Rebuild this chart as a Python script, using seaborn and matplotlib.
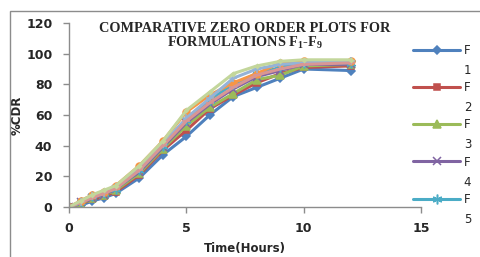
import numpy as np
import pandas as pd
import matplotlib
matplotlib.use("Agg")
import matplotlib.pyplot as plt
from matplotlib.patches import Rectangle
import seaborn as sns

# ---- data ----
time_h = [0, 0.5, 1, 1.5, 2, 3, 4, 5, 6, 7, 8, 9, 10, 12]
F1 = [0, 1, 4, 6, 9, 19, 34, 46, 60, 72, 78, 84, 90, 89]
F2 = [0, 2, 5, 7, 10, 21, 37, 50, 64, 73, 81, 87, 91, 92]
F3 = [0, 2, 6, 8, 11, 22, 38, 53, 65, 74, 83, 86, 92, 93]
F4 = [0, 3, 6, 8, 12, 23, 39, 55, 67, 77, 85, 89, 93, 93]
F5 = [0, 3, 7, 9, 12, 24, 40, 57, 70, 80, 87, 91, 94, 94]
F6 = [0, 4, 8, 10, 14, 27, 43, 62, 73, 81, 87, 94, 95, 95]
F7 = [0, 3, 7, 9, 13, 25, 41, 58, 71, 84, 90, 93, 94, 95]
F8 = [0, 3, 6, 9, 12, 24, 40, 56, 68, 78, 86, 90, 93, 94]
F9 = [0, 4, 8, 11, 14, 27, 43, 63, 75, 87, 92, 95, 96, 96]

series_names = ["F1", "F2", "F3", "F4", "F5", "F6", "F7", "F8", "F9"]
series_vals = [F1, F2, F3, F4, F5, F6, F7, F8, F9]
legend_nums = ["1", "2", "3", "4", "5"]

colors = ["#4F81BD", "#C0504D", "#9BBB59", "#8064A2", "#4BACC6",
          "#F79646", "#95B3D7", "#D99694", "#C3D69B"]
markers = ["D", "s", "^", "x", (6, 2, 0), "o", "+", "_", "D"]
msizes = [4.5, 5, 5.5, 6, 7, 5, 6, 6, 2]

df = pd.DataFrame({"Time": time_h * len(series_names),
                   "CDR": sum(series_vals, []),
                   "F": np.repeat(series_names, len(time_h))})

sns.set_style("white")
plt.rcParams["font.family"] = ["DejaVu Sans"]
plt.rcParams["mathtext.fontset"] = "custom"
plt.rcParams["mathtext.rm"] = "Liberation Serif:bold"
plt.rcParams["mathtext.default"] = "rm"

fig = plt.figure(figsize=(4.8, 2.57), dpi=100)
ax = fig.add_axes([69 / 480, 1 - 207 / 257, (421 - 69) / 480, (207 - 23) / 257])

for name, col, mk, ms in zip(series_names, colors, markers, msizes):
    sub = df[df["F"] == name]
    sns.lineplot(data=sub, x="Time", y="CDR", ax=ax, color=col, marker=mk,
                 markersize=ms, markeredgecolor=col, markeredgewidth=1.1,
                 linewidth=2.2, label=name, legend=False)

ax.set_xlim(0, 15)
ax.set_ylim(0, 120)
ax.set_xticks([0, 5, 10, 15])
ax.set_yticks(range(0, 121, 20))
ax.tick_params(axis="both", direction="out", length=4, width=1,
               color="#8c8c8c", labelsize=9, bottom=True, left=True)
ax.tick_params(axis="x", pad=7)
ax.tick_params(axis="y", pad=8)
for lab in ax.get_xticklabels() + ax.get_yticklabels():
    lab.set_fontweight("bold")
for s in ["top", "right"]:
    ax.spines[s].set_visible(False)
for s in ["left", "bottom"]:
    ax.spines[s].set_color("#8c8c8c")
    ax.spines[s].set_linewidth(1)
ax.set_xlabel("Time(Hours)", fontsize=8.5, fontweight="bold", labelpad=5)
ax.set_ylabel("%CDR", fontsize=8.5, fontweight="bold")
ax.yaxis.set_label_coords(-0.13, 0.5)

ax.text(0.5, 1.005, "COMPARATIVE ZERO ORDER PLOTS FOR\nFORMULATIONS F$_1$-F$_9$",
        transform=ax.transAxes, ha="center", va="top", fontsize=10.3,
        fontweight="bold", family="Liberation Serif", linespacing=0.95)

# legend (only first five fit in the chart area)
handles = ax.get_lines()[:5]
leg = ax.legend(handles, ["F"] * 5, loc="upper left",
                bbox_to_anchor=(413 / 480, 1 - 44 / 257),
                bbox_transform=fig.transFigure, frameon=False,
                fontsize=8.5, handlelength=4.0, handletextpad=0.3,
                labelspacing=2.05, borderpad=0, borderaxespad=0)
for t, n in zip(leg.get_texts(), legend_nums):
    ax.annotate(n, xy=(0, 0), xycoords=t, xytext=(0, -5),
                textcoords="offset points", ha="left", va="top",
                fontsize=8.5, annotation_clip=False, zorder=10)

# chart area border
fig.patches.append(Rectangle((10 / 480, -0.1), 1.0, 1 - 11 / 257 + 0.1,
                             transform=fig.transFigure, fill=False,
                             edgecolor="#8c8c8c", linewidth=1))

fig.savefig("out.png", dpi=100)
